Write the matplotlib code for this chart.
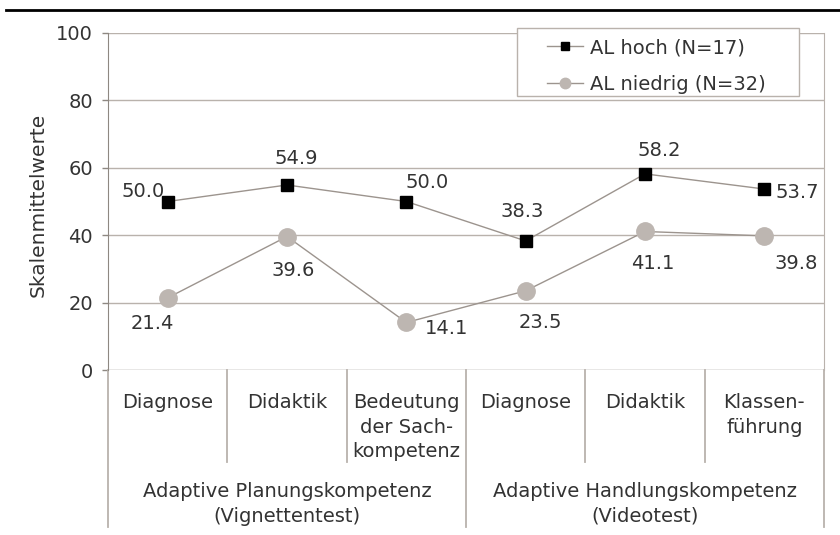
import matplotlib
matplotlib.use("Agg")
import matplotlib.pyplot as plt
from matplotlib.lines import Line2D
from matplotlib.patches import Rectangle
import matplotlib.transforms as mtransforms

categories = ["Diagnose", "Didaktik", "Bedeutung\nder Sach-\nkompetenz",
              "Diagnose", "Didaktik", "Klassen-\nführung"]
groups = ["Adaptive Planungskompetenz\n(Vignettentest)",
          "Adaptive Handlungskompetenz\n(Videotest)"]
hoch = [50.0, 54.9, 50.0, 38.3, 58.2, 53.7]
niedrig = [21.4, 39.6, 14.1, 23.5, 41.1, 39.8]
series_names = ["AL hoch (N=17)", "AL niedrig (N=32)"]
yticks = [0, 20, 40, 60, 80, 100]

# label offsets in pixels (dx, dy)
hoch_off = [(-25, 10), (9, 26), (21, 19), (-3, 29), (14, 23), (33, -3)]
niedrig_off = [(-15, -26), (6, -34), (40, -6), (15, -32), (8, -32), (32, -28)]

plt.rcParams['font.family'] = ['DejaVu Sans']
FS = 14
TXT = '#333333'
GRID = '#b9b2ac'
SPINE = '#8e8882'
LINEC = '#9c948e'
GRAYM = '#bdb6b1'
PX = 72 / 100  # points per pixel

fig = plt.figure(figsize=(8.4, 5.35), dpi=100)
W, H = 840, 535
ax = fig.add_axes([108 / W, 1 - 370 / H, 716 / W, 337 / H])

x = list(range(len(categories)))
ax.set_xlim(-0.5, len(categories) - 0.5)
ax.set_ylim(0, 100)
ax.set_yticks(yticks)
ax.set_yticklabels([str(v) for v in yticks], fontsize=FS, color=TXT)
ax.tick_params(axis='y', length=6 * PX, width=1, color=SPINE, pad=9 * PX)
ax.set_xticks([])
for yv in yticks[1:]:
    ax.axhline(yv, color=GRID, lw=1, zorder=1)
for s in ['top', 'bottom']:
    ax.spines[s].set_visible(False)
ax.spines['left'].set_color(SPINE)
ax.spines['right'].set_color(GRID)
ax.axhline(0, color=SPINE, lw=1, zorder=1)

ax.plot(x, hoch, color=LINEC, lw=1, marker='s', markersize=8.5,
        markerfacecolor='black', markeredgecolor='black', zorder=3)
ax.plot(x, niedrig, color=LINEC, lw=1, marker='o', markersize=12.5,
        markerfacecolor=GRAYM, markeredgecolor=GRAYM, zorder=3)

for xi, v, (dx, dy) in zip(x, hoch, hoch_off):
    ax.annotate(f"{v:.1f}", (xi, v), xytext=(dx, dy), textcoords='offset pixels',
                ha='center', va='center', fontsize=FS, color=TXT, zorder=4)
for xi, v, (dx, dy) in zip(x, niedrig, niedrig_off):
    ax.annotate(f"{v:.1f}", (xi, v), xytext=(dx, dy), textcoords='offset pixels',
                ha='center', va='center', fontsize=FS, color=TXT, zorder=4)

ax.set_ylabel("Skalenmittelwerte", fontsize=FS + 0.5, color=TXT)
ax.yaxis.set_label_coords(-(108 - 48) / 716, 0.49)

# table below axis
trans = mtransforms.blended_transform_factory(ax.transData, ax.transAxes)
y_inner = -(462 - 370) / 337
y_outer = -(527 - 370) / 337
for b in [0.5, 1.5, 3.5, 4.5]:
    ax.add_line(Line2D([b, b], [0, y_inner], transform=trans, color=GRID,
                       lw=1.3, clip_on=False))
for b in [-0.5, 2.5, 5.5]:
    ax.add_line(Line2D([b, b], [0, y_outer], transform=trans, color=GRID,
                       lw=1.3, clip_on=False))

y_cat = -(393 - 370) / 337
for xi, c in zip(x, categories):
    ax.text(xi, y_cat, c, transform=trans, ha='center', va='top', fontsize=FS,
            color=TXT, linespacing=1.38)
y_grp = -(482 - 370) / 337
for gi, g in enumerate(groups):
    ax.text(1 + 3 * gi, y_grp, g, transform=trans, ha='center', va='top',
            fontsize=FS, color=TXT, linespacing=1.38)

# legend
fig.add_artist(Rectangle((517 / W, 1 - 96 / H), 282 / W, 68 / H,
                         transform=fig.transFigure, facecolor='white',
                         edgecolor=GRID, lw=1, zorder=4))
h1 = Line2D([], [], color=LINEC, lw=1, marker='s', markersize=6,
            markerfacecolor='black', markeredgecolor='black')
h2 = Line2D([], [], color=LINEC, lw=1, marker='o', markersize=7.5,
            markerfacecolor=GRAYM, markeredgecolor=GRAYM)
leg = fig.legend(handles=[h1, h2], labels=series_names, loc='upper left',
                 bbox_to_anchor=(547 / W, 1 - 38 / H),
                 borderaxespad=0, borderpad=0, fontsize=FS, frameon=False,
                 handlelength=1.85, handletextpad=0.35, labelspacing=0.92)
leg.set_zorder(5)
for t in leg.get_texts():
    t.set_color(TXT)

fig.add_artist(Line2D([6 / W, 1], [1 - 9.5 / H, 1 - 9.5 / H], transform=fig.transFigure,
                      color='black', lw=2))

fig.savefig("out.png", dpi=100)
